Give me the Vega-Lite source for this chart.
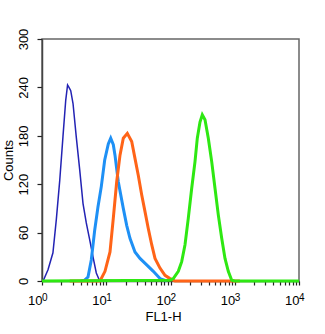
{
  "$schema": "https://vega.github.io/schema/vega-lite/v6.json",
  "width": 257,
  "height": 242,
  "autosize": {"type": "none"},
  "padding": {"left": 42, "top": 39, "right": 26, "bottom": 53},
  "background": "white",
  "datasets": {
    "curves": [
      {"series": "dark", "fl": 1.0, "count": 0},
      {"series": "dark", "fl": 1.04, "count": 0},
      {"series": "dark", "fl": 1.24, "count": 14},
      {"series": "dark", "fl": 1.48, "count": 35},
      {"series": "dark", "fl": 1.67, "count": 76},
      {"series": "dark", "fl": 1.89, "count": 125},
      {"series": "dark", "fl": 2.12, "count": 179},
      {"series": "dark", "fl": 2.34, "count": 224},
      {"series": "dark", "fl": 2.5, "count": 243},
      {"series": "dark", "fl": 2.63, "count": 240},
      {"series": "dark", "fl": 2.8, "count": 236},
      {"series": "dark", "fl": 3.04, "count": 220},
      {"series": "dark", "fl": 3.42, "count": 178},
      {"series": "dark", "fl": 3.86, "count": 138},
      {"series": "dark", "fl": 4.35, "count": 96},
      {"series": "dark", "fl": 4.89, "count": 72},
      {"series": "dark", "fl": 5.53, "count": 51},
      {"series": "dark", "fl": 6.22, "count": 30},
      {"series": "dark", "fl": 7.0, "count": 10},
      {"series": "dark", "fl": 7.91, "count": 0},
      {"series": "dark", "fl": 10, "count": 1},
      {"series": "dark", "fl": 16, "count": 0},
      {"series": "light", "fl": 4.0, "count": 0},
      {"series": "light", "fl": 4.62, "count": 1},
      {"series": "light", "fl": 5.2, "count": 5},
      {"series": "light", "fl": 5.85, "count": 26},
      {"series": "light", "fl": 6.61, "count": 63},
      {"series": "light", "fl": 7.44, "count": 92},
      {"series": "light", "fl": 8.37, "count": 117},
      {"series": "light", "fl": 9.46, "count": 150},
      {"series": "light", "fl": 10.76, "count": 170},
      {"series": "light", "fl": 11.73, "count": 177},
      {"series": "light", "fl": 12.88, "count": 169},
      {"series": "light", "fl": 13.68, "count": 156},
      {"series": "light", "fl": 15.4, "count": 123},
      {"series": "light", "fl": 18.42, "count": 90},
      {"series": "light", "fl": 20.8, "count": 69},
      {"series": "light", "fl": 23.4, "count": 53},
      {"series": "light", "fl": 28.0, "count": 36},
      {"series": "light", "fl": 33.5, "count": 28},
      {"series": "light", "fl": 42.6, "count": 20},
      {"series": "light", "fl": 54.0, "count": 12},
      {"series": "light", "fl": 68.6, "count": 3},
      {"series": "light", "fl": 87.3, "count": 0},
      {"series": "orange", "fl": 2.7, "count": 0},
      {"series": "orange", "fl": 8.0, "count": 0},
      {"series": "orange", "fl": 9.56, "count": 12},
      {"series": "orange", "fl": 11.44, "count": 36},
      {"series": "orange", "fl": 12.88, "count": 78},
      {"series": "orange", "fl": 14.54, "count": 123},
      {"series": "orange", "fl": 16.37, "count": 156},
      {"series": "orange", "fl": 18.42, "count": 177},
      {"series": "orange", "fl": 21.27, "count": 183},
      {"series": "orange", "fl": 24.9, "count": 173},
      {"series": "orange", "fl": 28.0, "count": 152},
      {"series": "orange", "fl": 31.5, "count": 131},
      {"series": "orange", "fl": 35.6, "count": 107},
      {"series": "orange", "fl": 40.1, "count": 86},
      {"series": "orange", "fl": 45.1, "count": 65},
      {"series": "orange", "fl": 51.0, "count": 45},
      {"series": "orange", "fl": 57.4, "count": 28},
      {"series": "orange", "fl": 68.6, "count": 16},
      {"series": "orange", "fl": 82.1, "count": 7},
      {"series": "orange", "fl": 98.2, "count": 3},
      {"series": "orange", "fl": 117.5, "count": 0},
      {"series": "orange", "fl": 1200, "count": 0},
      {"series": "green", "fl": 1, "count": 0},
      {"series": "green", "fl": 98.2, "count": 1},
      {"series": "green", "fl": 110.6, "count": 3},
      {"series": "green", "fl": 132.2, "count": 12},
      {"series": "green", "fl": 149.4, "count": 24},
      {"series": "green", "fl": 168.2, "count": 45},
      {"series": "green", "fl": 189.3, "count": 78},
      {"series": "green", "fl": 213.8, "count": 115},
      {"series": "green", "fl": 240.6, "count": 148},
      {"series": "green", "fl": 261.3, "count": 177},
      {"series": "green", "fl": 287.8, "count": 197},
      {"series": "green", "fl": 312.6, "count": 206},
      {"series": "green", "fl": 344.4, "count": 200},
      {"series": "green", "fl": 387.6, "count": 177},
      {"series": "green", "fl": 437.8, "count": 148},
      {"series": "green", "fl": 492.7, "count": 115},
      {"series": "green", "fl": 554.6, "count": 82},
      {"series": "green", "fl": 626.6, "count": 53},
      {"series": "green", "fl": 705.1, "count": 28},
      {"series": "green", "fl": 793.6, "count": 12},
      {"series": "green", "fl": 896.6, "count": 1},
      {"series": "green", "fl": 1009, "count": 0},
      {"series": "green", "fl": 10000, "count": 0}
    ],
    "exponents": [
      {"fl": 1, "exp": "0"},
      {"fl": 10, "exp": "1"},
      {"fl": 100, "exp": "2"},
      {"fl": 1000, "exp": "3"},
      {"fl": 10000, "exp": "4"}
    ]
  },
  "layer": [
    {
      "data": {"name": "curves"},
      "transform": [{"filter": "datum.series === 'dark'"}],
      "mark": {"type": "line", "color": "#2323b4", "strokeWidth": 1.5},
      "encoding": {
        "x": {
          "field": "fl",
          "type": "quantitative",
          "scale": {"type": "log", "domain": [1, 10000], "nice": false},
          "axis": {
            "title": "FL1-H",
            "values": [1,2,3,4,5,6,7,8,9,10,20,30,40,50,60,70,80,90,100,200,300,400,500,600,700,800,900,1000,2000,3000,4000,5000,6000,7000,8000,9000,10000],
            "labelExpr": "indexof([1,10,100,1000,10000], datum.value) >= 0 ? '10' : ''",
            "tickSize": 4,
            "labelAlign": "right",
            "labelBaseline": "top",
            "labelPadding": 9,
            "labelOverlap": false,
            "labelFlush": false,
            "titleX": 121,
            "titleAlign": "center",
            "titlePadding": 3
          }
        },
        "y": {
          "field": "count",
          "type": "quantitative",
          "scale": {"domain": [0, 300], "nice": false},
          "axis": {
            "title": "Counts",
            "values": [0, 60, 120, 180, 240, 300],
            "tickSize": 5,
            "labelAngle": -90,
            "labelAlign": "center",
            "labelBaseline": "bottom",
            "labelPadding": 7,
            "labelOverlap": false,
            "labelFlush": false,
            "titlePadding": 2
          }
        }
      }
    },
    {
      "data": {"name": "curves"},
      "transform": [{"filter": "datum.series === 'light'"}],
      "mark": {"type": "line", "color": "#1e90f5", "strokeWidth": 3},
      "encoding": {
        "x": {"field": "fl", "type": "quantitative"},
        "y": {"field": "count", "type": "quantitative"}
      }
    },
    {
      "data": {"name": "curves"},
      "transform": [{"filter": "datum.series === 'orange'"}],
      "mark": {"type": "line", "color": "#ff6418", "strokeWidth": 3},
      "encoding": {
        "x": {"field": "fl", "type": "quantitative"},
        "y": {"field": "count", "type": "quantitative"}
      }
    },
    {
      "data": {"name": "curves"},
      "transform": [{"filter": "datum.series === 'green'"}],
      "mark": {"type": "line", "color": "#2ee812", "strokeWidth": 3},
      "encoding": {
        "x": {"field": "fl", "type": "quantitative"},
        "y": {"field": "count", "type": "quantitative"}
      }
    },
    {
      "data": {"name": "exponents"},
      "mark": {"type": "text", "align": "left", "baseline": "top", "dy": 12, "dx": 0, "font": "Liberation Sans", "fontSize": 10, "color": "black", "clip": false},
      "encoding": {
        "x": {"field": "fl", "type": "quantitative"},
        "y": {"datum": 0, "type": "quantitative"},
        "text": {"field": "exp", "type": "nominal"}
      }
    }
  ],
  "config": {
    "view": {"stroke": "#666666", "strokeWidth": 1.5},
    "axis": {
      "domainColor": "#444444",
      "domainWidth": 1.5,
      "tickColor": "#222222",
      "tickWidth": 1.2,
      "grid": false,
      "labelFont": "Liberation Sans",
      "labelFontSize": 13,
      "labelColor": "black",
      "titleFont": "Liberation Sans",
      "titleFontSize": 13,
      "titleFontWeight": "normal",
      "titleColor": "black"
    }
  }
}
